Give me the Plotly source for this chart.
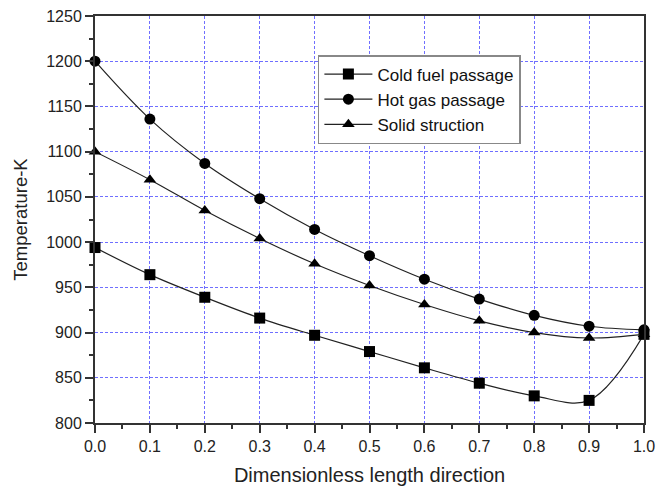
import plotly.graph_objects as go

x_vals = [0.0, 0.1, 0.2, 0.3, 0.4, 0.5, 0.6, 0.7, 0.8, 0.9, 1.0]
cold_fuel = [994, 964, 939, 916, 897, 879, 861, 844, 830, 825, 898]
hot_gas = [1200, 1136, 1087, 1048, 1014, 985, 959, 937, 919, 907, 903]
solid = [1100, 1069, 1035, 1004, 976, 952, 931, 913, 900, 894, 898]

x_ticks = [0.0, 0.1, 0.2, 0.3, 0.4, 0.5, 0.6, 0.7, 0.8, 0.9, 1.0]
x_tick_labels = ["0.0", "0.1", "0.2", "0.3", "0.4", "0.5", "0.6", "0.7", "0.8", "0.9", "1.0"]
y_ticks = [800, 850, 900, 950, 1000, 1050, 1100, 1150, 1200, 1250]

series = [
    ("Cold fuel passage", cold_fuel, "square"),
    ("Hot gas passage", hot_gas, "circle"),
    ("Solid struction", solid, "triangle-up"),
]

FONT = "Liberation Sans, Arial"

fig = go.Figure()
for name, vals, sym in series:
    fig.add_trace(go.Scatter(
        x=x_vals, y=vals, name=name, mode="lines+markers",
        line=dict(color="#222222", width=1.2, shape="spline", smoothing=1),
        marker=dict(symbol=sym, size=11, color="black"),
        cliponaxis=False,
    ))

axis_common = dict(
    automargin=False,
    showline=True, linecolor="#333333", linewidth=2, mirror=True,
    ticks="outside", ticklen=8, tickwidth=1.5, tickcolor="#333333",
    showgrid=True, gridcolor="#6f6fff", griddash="3px,2px", gridwidth=1,
    zeroline=False,
    tickfont=dict(family=FONT, size=16, color="#222222"),
    minor=dict(ticks="outside", ticklen=4, tickwidth=1.5, tickcolor="#333333", showgrid=False),
)

fig.update_xaxes(
    range=[0, 1.0], tickvals=x_ticks, ticktext=x_tick_labels,
    title=dict(text="Dimensionless length direction",
               font=dict(family=FONT, size=20, color="#222222"),
               standoff=14),
    minor_dtick=0.05,
    **axis_common,
)
fig.update_yaxes(
    range=[800, 1250], tickvals=y_ticks,
    title=dict(text="Temperature-K",
               font=dict(family=FONT, size=18.5, color="#222222"),
               standoff=14),
    minor_dtick=25,
    **axis_common,
)

fig.update_layout(
    width=671, height=486,
    margin=dict(l=95, r=27, t=16, b=63),
    plot_bgcolor="white", paper_bgcolor="white",
    legend=dict(
        x=0.406, y=0.904, xanchor="left", yanchor="top",
        bgcolor="white", bordercolor="#888888", borderwidth=1.5,
        font=dict(family=FONT, size=17, color="#111111"),
        tracegroupgap=0, itemwidth=48,
    ),
)

fig.write_html("out.html", config={"displayModeBar": False},
               post_script="document.body.style.margin='0';")
